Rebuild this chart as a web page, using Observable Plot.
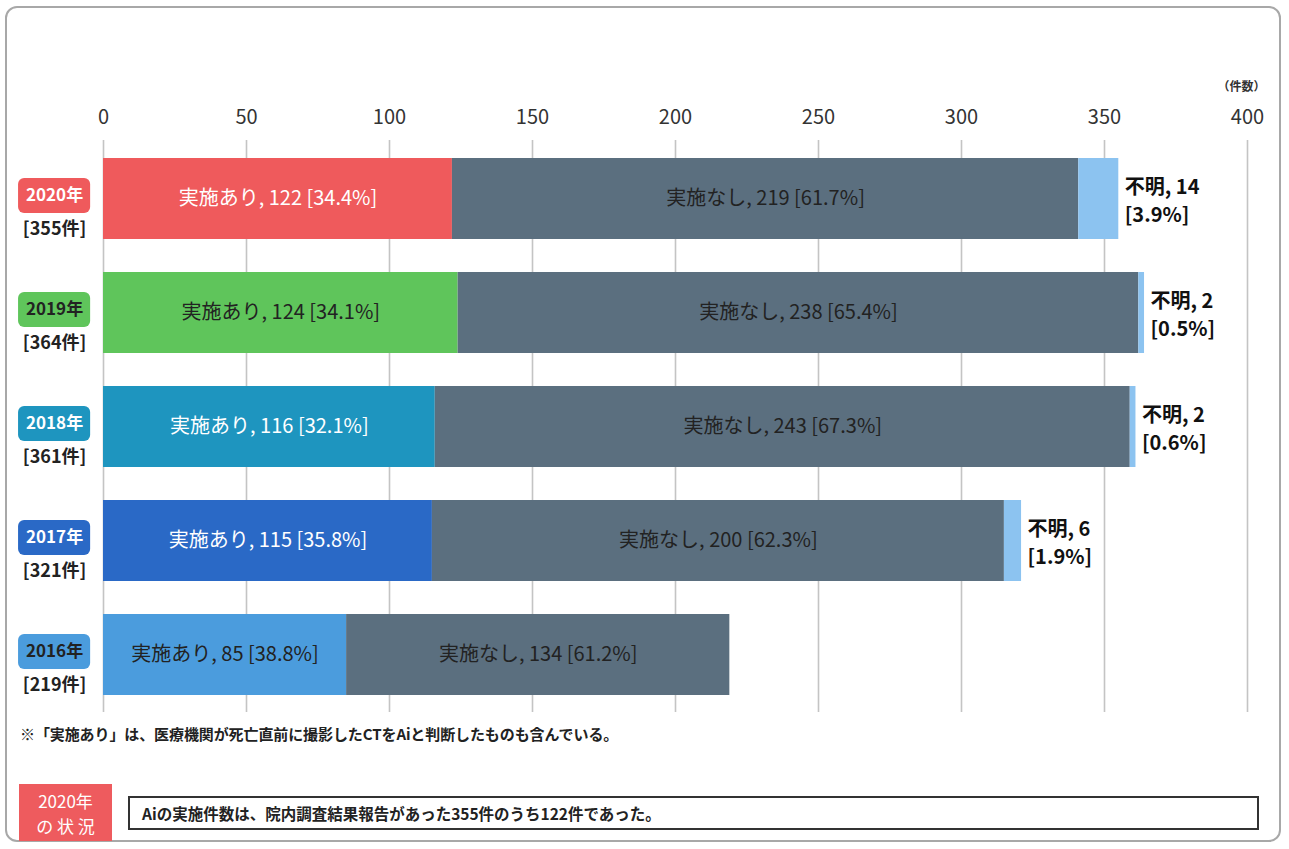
<!DOCTYPE html>
<html>
<head>
<meta charset="utf-8">
<script src="https://cdn.jsdelivr.net/npm/d3@7"></script>
<script src="https://cdn.jsdelivr.net/npm/@observablehq/plot@0.6"></script>
<style>
  html, body { margin: 0; padding: 0; background: #fff; }
  #wrap { position: relative; width: 1289px; height: 849px; overflow: hidden; font-family: "Noto Sans CJK JP", "Noto Sans", sans-serif; }
  #frame { position: absolute; left: 5px; top: 6px; width: 1276px; height: 836px; border: 2px solid #a8a8a8; border-radius: 12px; box-sizing: border-box; }
  #chart { position: absolute; left: 0; top: 0; }
  #note { position: absolute; left: 20px; top: 723px; font-size: 15px; font-weight: bold; color: #222; letter-spacing: -0.1px; }
  #badge { position: absolute; left: 19px; top: 784px; width: 93px; height: 57px; background: #ee5b5e; color: #fff; font-size: 17px; line-height: 25px; text-align: center; display: flex; flex-direction: column; justify-content: center; }
  #summary { position: absolute; left: 128px; top: 796px; width: 1131px; height: 34px; border: 2px solid #333; box-sizing: border-box; font-size: 15.5px; font-weight: bold; color: #222; padding-left: 12px; line-height: 30px; }
</style>
</head>
<body>
<div id="wrap">
  <div id="frame"></div>
  <div id="chart"></div>
  <div id="note">※「実施あり」は、医療機関が死亡直前に撮影したCTをAiと判断したものも含んでいる。</div>
  <div id="badge"><div>2020年</div><div>の 状 況</div></div>
  <div id="summary">Aiの実施件数は、院内調査結果報告があった355件のうち122件であった。</div>
</div>
<script>
// ---- data ----
const years = ["2020年", "2019年", "2018年", "2017年", "2016年"];
const totals = [355, 364, 361, 321, 219];
const ariValues = [122, 124, 116, 115, 85];
const ariPct = ["34.4%", "34.1%", "32.1%", "35.8%", "38.8%"];
const nashiValues = [219, 238, 243, 200, 134];
const nashiPct = ["61.7%", "65.4%", "67.3%", "62.3%", "61.2%"];
const fumeiValues = [14, 2, 2, 6, 0];
const fumeiPct = ["3.9%", "0.5%", "0.6%", "1.9%", "0.0%"];
const xTicks = [0, 50, 100, 150, 200, 250, 300, 350, 400];

// ---- styles ----
const yearColors = ["#ef5a5c", "#5fc55b", "#1e95bf", "#2a69c6", "#4b9cdd"];
const yearTextColors = ["#ffffff", "#222222", "#ffffff", "#ffffff", "#222222"];
const nashiColor = "#5b6f7f";
const fumeiColor = "#8cc3f0";

const rows = [];
years.forEach((yr, i) => {
  rows.push({year: yr, cat: "実施あり", order: 0, value: ariValues[i], color: yearColors[i], tcolor: yearTextColors[i],
             label: `実施あり, ${ariValues[i]} [${ariPct[i]}]`});
  rows.push({year: yr, cat: "実施なし", order: 1, value: nashiValues[i], color: nashiColor, tcolor: "#222222",
             label: `実施なし, ${nashiValues[i]} [${nashiPct[i]}]`});
  if (fumeiValues[i] > 0)
    rows.push({year: yr, cat: "不明", order: 2, value: fumeiValues[i], color: fumeiColor, tcolor: "#111111",
               label: `不明, ${fumeiValues[i]}\n[${fumeiPct[i]}]`});
});
const yearRows = years.map((yr, i) => ({year: yr, total: totals[i], color: yearColors[i], tcolor: yearTextColors[i]}));

const chart = Plot.plot({
  width: 1289,
  height: 715,
  marginTop: 140,
  marginBottom: 3,
  marginLeft: 103,
  marginRight: 42,
  style: {fontFamily: "'Noto Sans CJK JP', 'Noto Sans', sans-serif", background: "transparent"},
  x: {domain: [0, 400], ticks: xTicks, label: null},
  y: {domain: years, type: "band", paddingInner: 0.2926, paddingOuter: 0.144, axis: null},
  color: {type: "identity"},
  marks: [
    Plot.gridX(xTicks, {stroke: "#c4c4c4", strokeOpacity: 1, strokeWidth: 1.6}),
    Plot.axisX(xTicks, {anchor: "top", tickSize: 0, tickPadding: 17, fontSize: 20, fill: "#333", label: null}),
    Plot.text([400], {x: d => d, frameAnchor: "top", dy: -58, dx: -6, text: () => "（件数）", fontSize: 12, fontWeight: "bold", fill: "#333"}),
    Plot.barX(rows, Plot.stackX({x: "value", y: "year", fill: "color", order: "order"})),
    Plot.text(rows, Plot.stackX({x: "value", y: "year", order: "order",
      text: d => d.cat === "不明" ? null : d.label, fill: "tcolor", fontSize: 20})),
    Plot.text(rows, Plot.stackX2({x: "value", y: "year", order: "order",
      text: d => d.cat === "不明" ? d.label : null, fill: "tcolor", fontSize: 20, fontWeight: "bold",
      textAnchor: "start", dx: 6, lineHeight: 1.4})),
    Plot.rect(yearRows, {x1: () => -29.7, x2: () => -4.5, y: "year", fill: "color", rx: 6, insetTop: 20, insetBottom: 26}),
    Plot.text(yearRows, {x: () => -17.1, y: "year", dy: -3, text: "year", fill: "tcolor", fontSize: 17, fontWeight: "bold"}),
    Plot.text(yearRows, {x: () => -17.1, y: "year", dy: 30, text: d => `[${d.total}件]`, fill: "#222", fontSize: 18, fontWeight: "bold"})
  ]
});
document.getElementById("chart").appendChild(chart);
</script>
</body>
</html>
